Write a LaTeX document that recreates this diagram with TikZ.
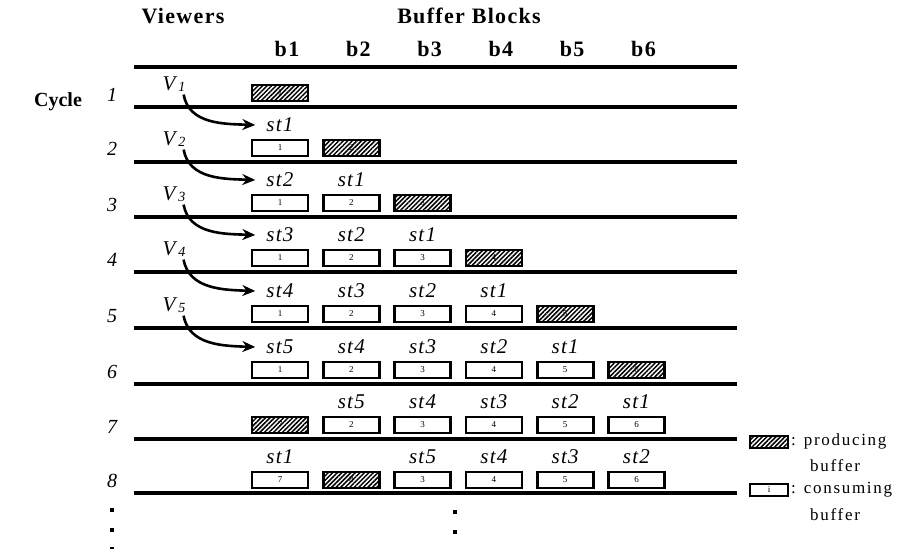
\documentclass[tikz,border=0pt]{standalone}
\usepackage{fontspec}
\setmainfont{Liberation Serif}
\newfontfamily\lsf[LetterSpace=6]{Liberation Serif}
\newfontfamily\lsg[LetterSpace=10]{Liberation Serif}
\usetikzlibrary{patterns.meta,arrows.meta}
\begin{document}
\begin{tikzpicture}[x=1pt,y=-1pt,
  hline/.style={line width=3.4pt},
  cbox/.style={draw,line width=2.8pt,fill=white,minimum width=56pt,minimum height=16pt,inner sep=0pt,font=\fontsize{9}{9}\selectfont},
  pbox/.style={cbox,pattern={Lines[angle=45,distance=3.2pt,line width=1.5pt]}},
  lbox/.style={cbox,minimum width=38pt,minimum height=12pt},
  lpbox/.style={lbox,pattern={Lines[angle=45,distance=3.2pt,line width=1.5pt]}},
  stlab/.style={font=\lsf\itshape\fontsize{21}{21}\selectfont,inner sep=1pt},
  cyc/.style={font=\itshape\fontsize{20}{20}\selectfont,inner sep=0pt},
  hdr/.style={font=\lsf\bfseries\fontsize{22}{22}\selectfont,inner sep=0pt},
  vlab/.style={font=\itshape\fontsize{21}{21}\selectfont,inner sep=0pt},
  leg/.style={font=\lsg\fontsize{17}{17}\selectfont,inner sep=0pt,anchor=west},
  varrow/.style={line width=2.6pt,-{Stealth[length=13pt,width=11pt]}},
  dot/.style={fill=black}]
\fill[white] (0,0) rectangle (924,552);
\useasboundingbox (0,0) rectangle (924,552);

% headers
\node[hdr] (hv) at (183,16) {Viewers};
\node[hdr] (hb) at (469,16) {Buffer Blocks};
\foreach \c in {1,...,6}{
  \pgfmathsetmacro{\xc}{287+71.3*(\c-1)}
  \node[hdr] (h\c) at (\xc,49) {b\c};
}
\node[font=\bfseries\fontsize{20}{20}\selectfont,inner sep=0pt] (cy) at (58,102) {Cycle};

% horizontal lines
\foreach \yy in {67,107,162,217,272,328,384,439,493}{
  \draw[hline] (134,\yy) -- (737,\yy);
}

% cycle numbers
\foreach \r/\yy in {1/95,2/149,3/205,4/260,5/316,6/372,7/427,8/481}{
  \node[cyc] (n\r) at (112,\yy) {\r};
}

% rows 1-6
\foreach \r/\yy in {1/93,2/148,3/203,4/258,5/314,6/370}{
  \foreach \c in {1,...,\r}{
    \pgfmathsetmacro{\xc}{280+71.3*(\c-1)}
    \ifnum\c=\r
      \node[pbox] (b\r-\c) at (\xc,\yy) {\r};
    \else
      \pgfmathtruncatemacro{\s}{\r-\c}
      \node[cbox] (b\r-\c) at (\xc,\yy) {\c};
      \node[stlab] (s\r-\c) at (\xc,\yy-23) {st\s};
    \fi
  }
}
% row 7
\node[pbox] (b7-1) at (280,425) {7};
\foreach \c in {2,...,6}{
  \pgfmathsetmacro{\xc}{280+71.3*(\c-1)}
  \pgfmathtruncatemacro{\s}{7-\c}
  \node[cbox] (b7-\c) at (\xc,425) {\c};
  \node[stlab] (s7-\c) at (\xc,402) {st\s};
}
% row 8
\node[cbox] (b8-1) at (280,480) {7};
\node[stlab] (s8-1) at (280,457) {st1};
\node[pbox] (b8-2) at (351.3,480) {8};
\foreach \c in {3,...,6}{
  \pgfmathsetmacro{\xc}{280+71.3*(\c-1)}
  \pgfmathtruncatemacro{\s}{8-\c}
  \node[cbox] (b8-\c) at (\xc,480) {\c};
  \node[stlab] (s8-\c) at (\xc,457) {st\s};
}

% viewers and arrows
\foreach \k/\yy in {1/84,2/139,3/194,4/249,5/305}{
  \pgfmathtruncatemacro{\nk}{\k+1}
  \node[vlab] (v\k) at (174,\yy) {V\hspace{3pt}\raisebox{-1pt}{\fontsize{14}{14}\selectfont\itshape\k}};
  \draw[varrow] ([xshift=-2pt,yshift=-3pt]v\k.south east) to[out=-80,in=178] ([xshift=-10pt]s\nk-1.west);
}

% dots
\foreach \yy in {510,530}{
  \fill[dot] (110,\yy-2) rectangle (114,\yy+2);
  \fill[dot] (453,\yy) rectangle (457,\yy+4);
}
\fill[dot] (110,547) rectangle (114,549);

% legend
\node[lpbox] (lp) at (769,442) {};
\node[leg] (lpt) at (791,441) {: producing};
\node[leg] (lpb) at (810,466) {buffer};
\node[lbox] (lc) at (769,490) {i};
\node[leg] (lct) at (791,490) {: consuming};
\node[leg] (lcb) at (810,515) {buffer};
\end{tikzpicture}
\end{document}
